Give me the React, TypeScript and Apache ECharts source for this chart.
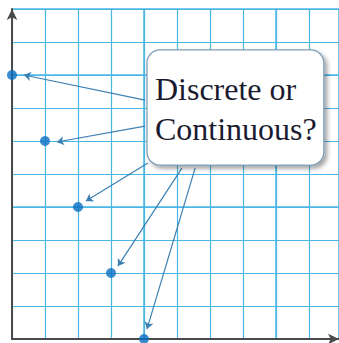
import React, { useEffect, useRef } from "react";
import * as echarts from "echarts";

// Points (grid units)
const pointsX = [0, 1, 2, 3, 4];
const pointsY = [8, 6, 4, 2, 0];

// Arrow annotation start (box edge) and end (near points), grid units
const arrowStarts = [
  [4.03, 7.24],
  [4.03, 6.45],
  [4.12, 5.33],
  [5.15, 5.18],
  [5.55, 5.18],
];
const arrowEnds = [
  [0.36, 8.0],
  [1.36, 5.97],
  [2.24, 4.18],
  [3.21, 2.21],
  [4.09, 0.3],
];

// Callout box corners (grid units) and its text
const boxCorners = [
  [4.09, 8.76],
  [9.45, 5.27],
];
const calloutLines = ["Discrete or", "Continuous?"];

const X_MAX = 9.91;
const Y_MAX = 10;

export default function App() {
  const ref = useRef<HTMLDivElement>(null);
  useEffect(() => {
    if (!ref.current) return;
    const chart = echarts.init(ref.current, null, { renderer: "svg" });
    const gridColor = "#4ab6e6";
    const option: any = {
      animation: false,
      backgroundColor: "#ffffff",
      grid: { left: 12, right: 0, top: 9, bottom: 4, containLabel: false },
      xAxis: [
        {
          type: "value",
          min: 0,
          max: X_MAX,
          interval: 1,
          position: "bottom",
          axisLabel: { show: false },
          axisTick: { show: false },
          axisLine: {
            show: true,
            symbol: ["none", "arrow"],
            symbolSize: [8, 11],
            lineStyle: { color: "#4a4a4a", width: 2 },
          },
          splitLine: { show: true, lineStyle: { color: gridColor, width: 1.2 } },
          z: 3,
        },
        {
          type: "value",
          min: 0,
          max: X_MAX,
          interval: 4,
          position: "top",
          axisLabel: { show: false },
          axisTick: { show: false },
          axisLine: { show: false },
          splitLine: { show: true, lineStyle: { color: gridColor, width: 1.5 } },
        },
      ],
      yAxis: [
        {
          type: "value",
          min: 0,
          max: Y_MAX,
          interval: 1,
          position: "left",
          axisLabel: { show: false },
          axisTick: { show: false },
          axisLine: {
            show: true,
            symbol: ["none", "arrow"],
            symbolSize: [8, 11],
            lineStyle: { color: "#4a4a4a", width: 2 },
          },
          splitLine: { show: true, lineStyle: { color: gridColor, width: 1.2 } },
          z: 3,
        },
        {
          type: "value",
          min: 0,
          max: Y_MAX,
          interval: 4,
          position: "right",
          axisLabel: { show: false },
          axisTick: { show: false },
          axisLine: { show: false },
          splitLine: { show: true, lineStyle: { color: gridColor, width: 1.5 } },
        },
      ],
      series: [
        {
          type: "lines",
          coordinateSystem: "cartesian2d",
          xAxisIndex: 0,
          yAxisIndex: 0,
          symbol: ["none", "arrow"],
          symbolSize: 7,
          lineStyle: { color: "#3b7fb3", width: 1.2, opacity: 1, curveness: 0 },
          data: arrowStarts.map((s, i) => ({ coords: [s, arrowEnds[i]] })),
          z: 4,
        },
        {
          type: "scatter",
          xAxisIndex: 0,
          yAxisIndex: 0,
          symbol: "circle",
          symbolSize: 10,
          itemStyle: { color: "#0a6fc2" },
          data: pointsX.map((x, i) => [x, pointsY[i]]),
          z: 5,
        },
        {
          type: "custom",
          xAxisIndex: 0,
          yAxisIndex: 0,
          z: 10,
          data: [[boxCorners[0][0], boxCorners[0][1], boxCorners[1][0], boxCorners[1][1]]],
          renderItem: (params: any, api: any) => {
            const tl = api.coord([api.value(0), api.value(1)]);
            const br = api.coord([api.value(2), api.value(3)]);
            return {
              type: "group",
              children: [
                {
                  type: "rect",
                  shape: { x: tl[0], y: tl[1], width: br[0] - tl[0], height: br[1] - tl[1], r: 13 },
                  style: {
                    fill: "#ffffff",
                    stroke: "#7f9fb8",
                    lineWidth: 1.3,
                    shadowBlur: 4,
                    shadowOffsetX: 3,
                    shadowOffsetY: 3,
                    shadowColor: "rgba(0,0,0,0.35)",
                  },
                },
                ...calloutLines.map((t, i) => ({
                  type: "text",
                  x: tl[0] + 8,
                  y: tl[1] + 39 + i * 40,
                  style: {
                    text: t,
                    fill: "#1b1b30",
                    font: '32px "Liberation Serif", "DejaVu Serif", serif',
                    verticalAlign: "middle",
                    align: "left",
                  },
                })),
              ],
            };
          },
        },
      ],
    };
    chart.setOption(option);
    return () => chart.dispose();
  }, []);
  return (
    <div
      ref={ref}
      style={{ position: "fixed", left: 0, top: 0, width: 339, height: 343, background: "#fff" }}
    />
  );
}
